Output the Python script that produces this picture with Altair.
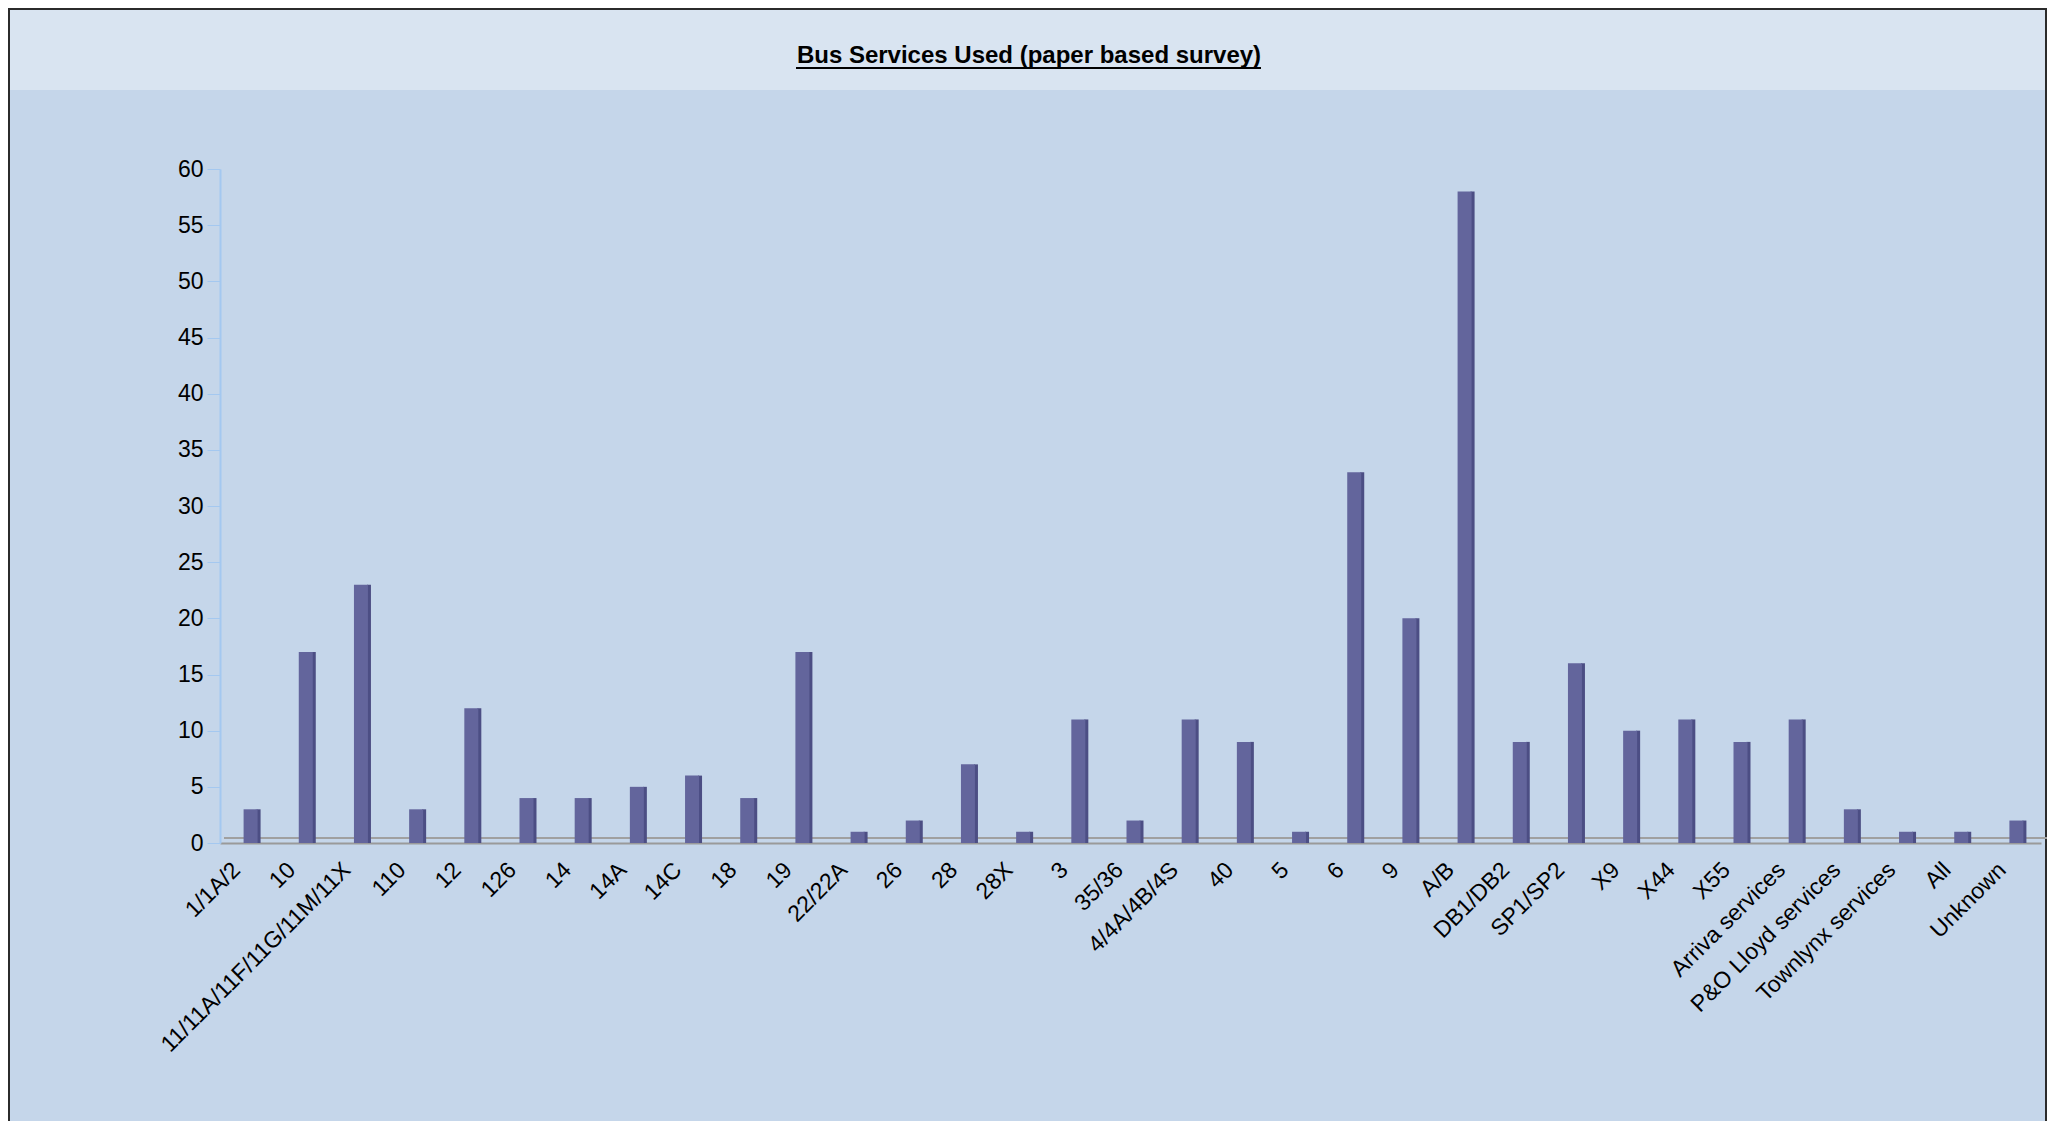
import altair as alt
import pandas as pd

services = ["1/1A/2", "10", "11/11A/11F/11G/11M/11X", "110", "12", "126", "14", "14A",
            "14C", "18", "19", "22/22A", "26", "28", "28X", "3", "35/36", "4/4A/4B/4S",
            "40", "5", "6", "9", "A/B", "DB1/DB2", "SP1/SP2", "X9", "X44", "X55",
            "Arriva services", "P&O Lloyd services", "Townlynx services", "All", "Unknown"]
counts = [3, 17, 23, 3, 12, 4, 4, 5, 6, 4, 17, 1, 2, 7, 1, 11, 2, 11, 9, 1, 33, 20, 58,
          9, 16, 10, 11, 9, 11, 3, 1, 1, 2]
y_ticks = [0, 5, 10, 15, 20, 25, 30, 35, 40, 45, 50, 55, 60]
title_text = "Bus Services Used (paper based survey)"

df = pd.DataFrame({"service": services, "count": counts})

W, H = 1821, 674
one = alt.Data(values=[{}])

x_enc = alt.X("service:N", sort=services,
              scale=alt.Scale(paddingInner=0, paddingOuter=0),
              axis=alt.Axis(title=None, labelAngle=-45, labelAlign="right",
                            labelBaseline="middle", labelFont="Liberation Sans",
                            labelFontSize=23, labelColor="#000000", labelPadding=23,
                            labelOffset=-11, labelLimit=0, ticks=False,
                            domainColor="#9a9a9a", domainWidth=2, grid=False,
                            labelOverlap=False))
y_enc = alt.Y("count:Q", scale=alt.Scale(domain=[0, 60], nice=False),
              axis=alt.Axis(title=None, values=y_ticks, labelFont="Liberation Sans",
                            labelFontSize=23, labelColor="#000000", labelPadding=4,
                            tickSize=13, tickColor="#a4c8f0", domainColor="#a4c8f0",
                            domainWidth=2, grid=False))

header = alt.Chart(one).mark_rect(color="#d9e4f1").encode(
    x=alt.value(-212), x2=alt.value(W + 6), y=alt.value(-161), y2=alt.value(-79))

border = alt.Chart(one).mark_rect(fill=None, stroke="#2b2b2b", strokeWidth=2).encode(
    x=alt.value(-211), x2=alt.value(W + 5), y=alt.value(-160), y2=alt.value(H + 320))

title = alt.Chart(one).mark_text(text=title_text, font="Liberation Sans", fontWeight="bold",
                                 fontSize=24, align="center", baseline="alphabetic",
                                 color="#000000").encode(
    x=alt.value(809), y=alt.value(-106))

underline = alt.Chart(one).mark_rule(color="#000000", strokeWidth=2).encode(
    x=alt.value(576), x2=alt.value(1041), y=alt.value(-101))

floor_back = alt.Chart(one).mark_rule(color="#a0a0a0", strokeWidth=2).encode(
    x=alt.value(4), x2=alt.value(W + 6), y=alt.value(H - 5))

side = alt.Chart(df).mark_bar(size=4, color="#4c4e84", xOffset=11).encode(
    x=alt.X("service:N", sort=services), y=alt.Y("count:Q"))

front = alt.Chart(df).mark_bar(size=14, color="#63659c", xOffset=3).encode(
    x=x_enc, y=y_enc)

chart = alt.layer(header, border, title, underline, floor_back, side, front).properties(
    width=W, height=H,
    autosize=alt.AutoSizeParams(type="none"),
    padding={"left": 212, "top": 161, "right": 6, "bottom": 278},
    background="#c5d6ea",
).configure_view(stroke=None)

chart.save("out.html", embed_options={"renderer": "svg", "actions": False})
